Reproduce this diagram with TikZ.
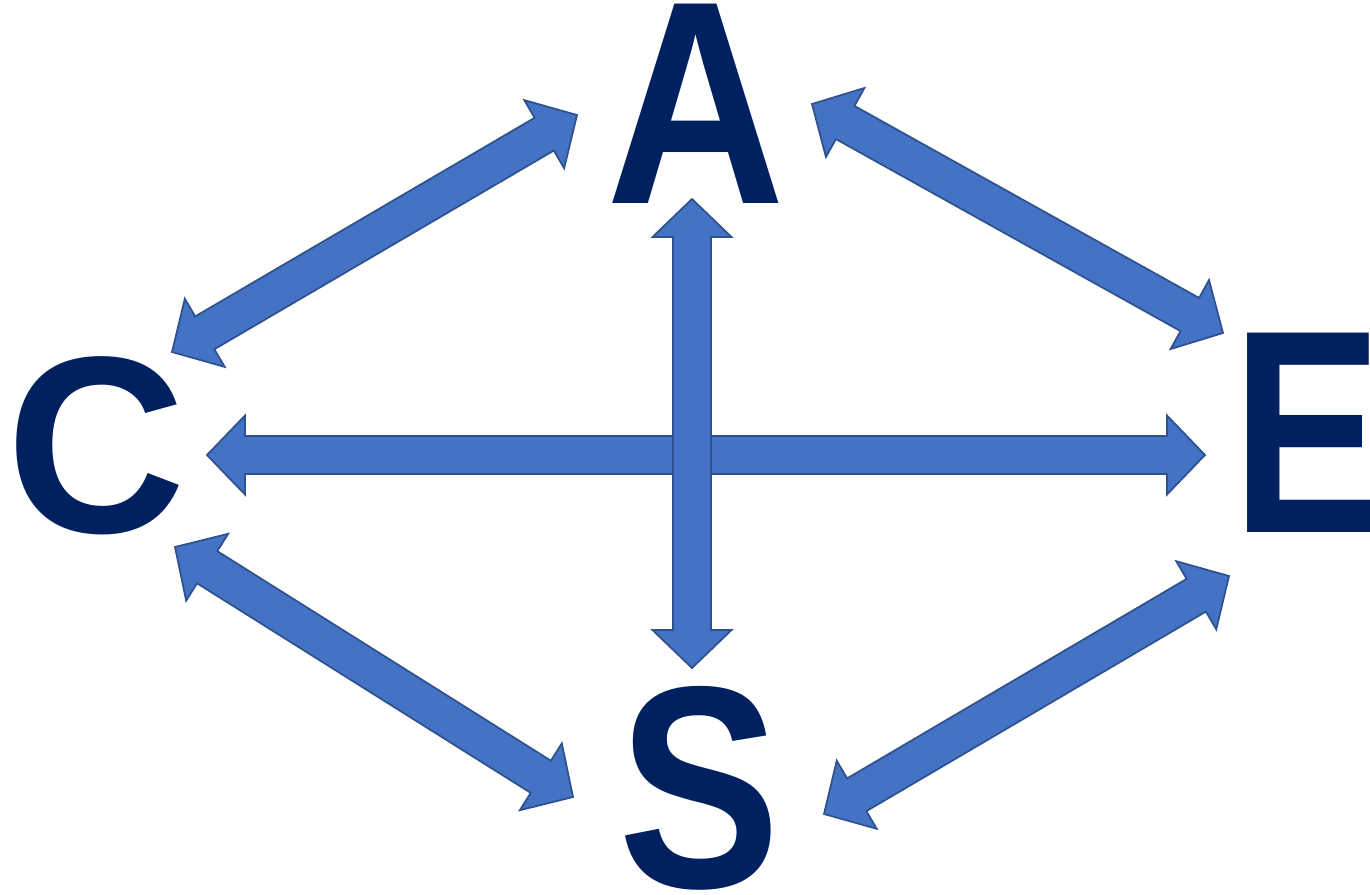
\documentclass[tikz,border=0pt]{standalone}
\usepackage{graphicx}
\usepackage{fontspec}
\setmainfont{Liberation Sans}
\usetikzlibrary{calc}

\definecolor{navy}{HTML}{002060}
\definecolor{arrowfill}{HTML}{4472C4}
\definecolor{arrowline}{HTML}{2F528F}

\tikzset{
  letter/.style={inner sep=0pt, text=navy, font=\fontsize{100}{100}\selectfont\bfseries},
  blockarrow/.style={fill=arrowfill, draw=arrowline, line width=1pt, line join=miter},
}

% two-headed block arrow between two tips
\newcommand{\dblarrow}[2]{
  \coordinate (h1) at ($(#1)!0.76cm!(#2)$);
  \coordinate (h2) at ($(#2)!0.76cm!(#1)$);
  \draw[blockarrow] (#1) -- ($(h1)!0.79cm!-90:(#2)$) -- ($(h1)!0.38cm!-90:(#2)$)
    -- ($(h2)!0.38cm!90:(#1)$) -- ($(h2)!0.79cm!90:(#1)$) -- (#2)
    -- ($(h2)!0.79cm!-90:(#1)$) -- ($(h2)!0.38cm!-90:(#1)$)
    -- ($(h1)!0.38cm!90:(#2)$) -- ($(h1)!0.79cm!90:(#2)$) -- cycle;
}

\begin{document}
\begin{tikzpicture}[x=0.02cm, y=-0.02cm]
\useasboundingbox (0,0) rectangle (1370,894);

\node[letter] (A) at (695.5,103.5) {\scalebox{1.41}[1.65]{A}};
\node[letter] (C) at (96,445.5) {\scalebox{1.416}[1.434]{C}};
\node[letter] (E) at (1307,432.5) {\scalebox{1.28}[1.65]{E}};
\node[letter] (S) at (699.5,788) {\scalebox{1.383}[1.64]{S}};

% arrow tips
\coordinate (CEc) at (207,455);
\coordinate (CEe) at (1205,455);
\coordinate (ASa) at (692,199);
\coordinate (ASs) at (692,668);
\coordinate (ACa) at (577,115);
\coordinate (ACc) at (172,352);
\coordinate (AEa) at (812,104);
\coordinate (AEe) at (1223,333);
\coordinate (CSc) at (175,547);
\coordinate (CSs) at (573,797);
\coordinate (SEs) at (824,814);
\coordinate (SEe) at (1229,576);

\dblarrow{ACc}{ACa}
\dblarrow{AEa}{AEe}
\dblarrow{CSc}{CSs}
\dblarrow{SEs}{SEe}
\dblarrow{CEc}{CEe}
\dblarrow{ASa}{ASs}
\end{tikzpicture}
\end{document}
